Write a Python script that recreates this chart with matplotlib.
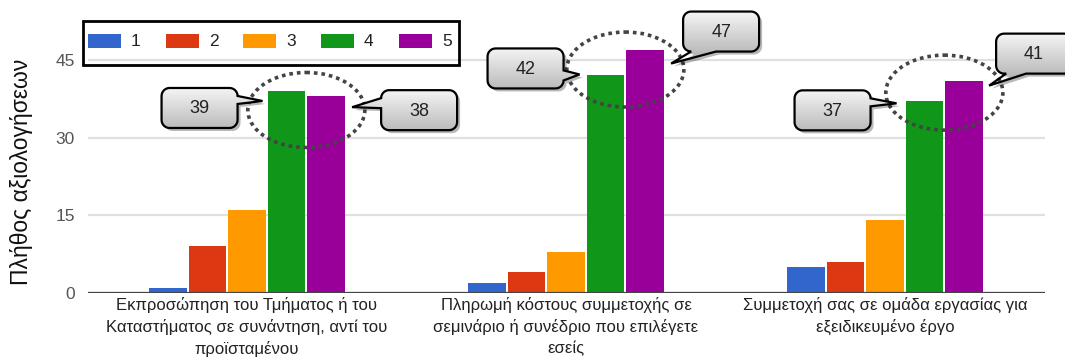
import numpy as np
import matplotlib
matplotlib.use("Agg")
import matplotlib.pyplot as plt
from matplotlib.path import Path
from matplotlib.patches import PathPatch, Ellipse, Rectangle
from matplotlib.colors import LinearSegmentedColormap

plt.rcParams["font.family"] = ["Liberation Sans", "DejaVu Sans"]

# --- data -------------------------------------------------------------
categories = [
    "Εκπροσώπηση του Τμήματος ή του\nΚαταστήματος σε συνάντηση, αντί του\nπροϊσταμένου",
    "Πληρωμή κόστους συμμετοχής σε\nσεμινάριο ή συνέδριο που επιλέγετε\nεσείς",
    "Συμμετοχή σας σε ομάδα εργασίας για\nεξειδικευμένο έργο",
]
rating_labels = ["1", "2", "3", "4", "5"]
rating_1 = [1, 2, 5]
rating_2 = [9, 4, 6]
rating_3 = [16, 8, 14]
rating_4 = [39, 42, 37]
rating_5 = [38, 47, 41]
y_ticks = [0, 15, 30, 45]
y_title = "Πλήθος αξιολογήσεων"

series = [rating_1, rating_2, rating_3, rating_4, rating_5]
colors = ["#3366cc", "#dc3912", "#ff9900", "#109618", "#990099"]

# callout layout per group, for ratings 4 and 5:
# (box dx, box dy, tip dx, tip dy, side, tail base along side) in pixels from bar top
callouts = [
    [(-87, 17, -24, 10, "right", (6, 16)), (93, 14, 26, 11, "left", (6, 18))],
    [(-80, -7, -26, -1, "right", (22, 34)), (76, -18, 26, 14, "bottom", (6, 33))],
    [(-92, 9, -28, 2, "right", (2, 16)), (70, -27, 25, 5, "bottom", (10, 30))],
]
# vertical shift of each dotted ring below the taller bar top, in pixels
ring_drop = [19, 20, 12]

W, H = 1065, 360
fig = plt.figure(figsize=(W / 100, H / 100), dpi=100)
ax = fig.add_axes([87.5 / W, 67 / H, 957 / W, 293 / H])

step = 0.124
x = np.arange(len(categories))
for s, (vals, col, lab) in enumerate(zip(series, colors, rating_labels)):
    ax.bar(x + (s - 2) * step, vals, width=0.118, color=col, label=lab, zorder=2)

ax.set_xlim(-0.5, 2.5)
ax.set_ylim(0, 293 / 5.18)
ax.set_yticks(y_ticks)
ax.set_xticks(x)
ax.set_xticklabels(categories, fontsize=12, color="#222222", linespacing=1.45)
ax.tick_params(axis="y", length=0, pad=9, labelsize=12.5, labelcolor="#555555")
ax.tick_params(axis="x", length=0, pad=3)
ax.yaxis.grid(True, color="#e0e0e0", lw=1.6)
ax.set_axisbelow(True)
ax.axhline(0, color="#444444", lw=1.6, zorder=3)
for sp in ax.spines.values():
    sp.set_visible(False)

fig.text(22 / W, 1 - 172 / H, y_title, rotation=90, fontsize=16.5,
         ha="center", va="center", color="#111111")

# overlay in pixel coordinates for rings, legend and callouts
ov = fig.add_axes([0, 0, 1, 1], zorder=5)
ov.patch.set_alpha(0)
ov.axis("off")

# dotted rings round the two tallest bars of each group
for i in range(len(categories)):
    top = max(rating_4[i], rating_5[i])
    px, py = ax.transData.transform((x[i] + 1.5 * step, top))
    ov.add_patch(Ellipse((px, H - py + ring_drop[i]), width=117, height=75,
                         fill=False, ec="#444444", lw=2.6,
                         linestyle=(0, (1, 1.1)), zorder=0.5))


def bubble_path(cx, cy, w, h, r, side, base, tip):
    x0, x1 = cx - w / 2, cx + w / 2
    y0, y1 = cy - h / 2, cy + h / 2

    def arc(xc, yc, a0, a1):
        t = np.radians(np.linspace(a0, a1, 8))
        return list(zip(xc + r * np.cos(t), yc + r * np.sin(t)))

    b0, b1 = base
    if side in ("left", "right"):
        b0, b1 = max(b0, r), min(b1, h - r)
    else:
        b0, b1 = max(b0, r), min(b1, w - r)
    pts = [(x0 + r, y0)]
    pts += arc(x1 - r, y0 + r, -90, 0)
    if side == "right":
        pts += [(x1, y0 + b0), tip, (x1, y0 + b1)]
    pts += arc(x1 - r, y1 - r, 0, 90)
    if side == "bottom":
        pts += [(x0 + b1, y1), tip, (x0 + b0, y1)]
    pts += arc(x0 + r, y1 - r, 90, 180)
    if side == "left":
        pts += [(x0, y0 + b1), tip, (x0, y0 + b0)]
    pts += arc(x0 + r, y0 + r, 180, 270)
    pts.append(pts[0])
    return Path(pts, closed=True)


grad_cmap = LinearSegmentedColormap.from_list("bubble", ["#f4f4f4", "#bcbcbc"])
grad = np.linspace(0, 1, 64).reshape(-1, 1)
bw, bh = 76, 40

for i in range(len(categories)):
    for k, s in enumerate((3, 4)):
        v = series[s][i]
        px, py = ax.transData.transform((x[i] + (s - 2) * step, v))
        py = H - py
        bdx, bdy, tdx, tdy, side, base = callouts[i][k]
        cx, cy = px + bdx, py + bdy
        path = bubble_path(cx, cy, bw, bh, 8, side, base, (px + tdx, py + tdy))
        shadow = Path(path.vertices + np.array([3, 3]), path.codes)
        ov.add_patch(PathPatch(shadow, fc=(0, 0, 0, 0.28), ec="none", zorder=1))
        outline = PathPatch(path, fc="none", ec="black", lw=1.6, zorder=3)
        ov.add_patch(outline)
        xs = path.vertices[:, 0]
        im = ov.imshow(grad, cmap=grad_cmap, aspect="auto", zorder=2,
                       extent=[xs.min(), xs.max(), cy + bh / 2, cy - bh / 2])
        im.set_clip_path(outline)
        ov.text(cx, cy + 1, str(v), ha="center", va="center", fontsize=13,
                color="#222222", zorder=4)

# legend box
ov.add_patch(Rectangle((83, 21), 376, 44, fill=False, ec="black", lw=2, zorder=3))
for j, (lab, col) in enumerate(zip(rating_labels, colors)):
    lx = 88 + j * 77.7
    ov.add_patch(Rectangle((lx, 34), 33, 14, fc=col, ec="none", zorder=3))
    ov.text(lx + 43, 41.5, lab, ha="left", va="center", fontsize=12.5,
            color="#222222", zorder=3)

ov.set_xlim(0, W)
ov.set_ylim(H, 0)

fig.savefig("out.png", dpi=100)
